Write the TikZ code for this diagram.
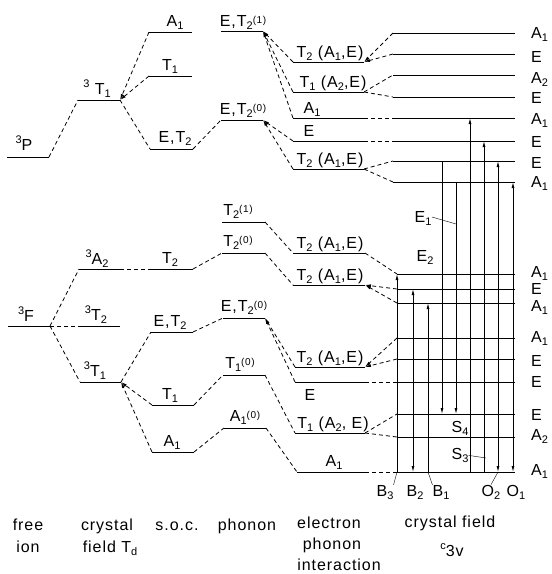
\documentclass[tikz,border=0pt]{standalone}
\usepackage{fontspec}
\setmainfont{Liberation Sans}[LetterSpace=6]
\usetikzlibrary{arrows.meta}

\newcommand{\subt}[1]{\raisebox{-0.45ex}{\fontsize{11}{11}\selectfont #1}}
\newcommand{\supt}[1]{\raisebox{0.8ex}{\fontsize{11}{11}\selectfont #1}}
\newcommand{\phn}[1]{\raisebox{0.25ex}{\fontsize{10}{10}\selectfont(#1)}}

\begin{document}
\begin{tikzpicture}[x=1pt, y=-1pt, font=\fontsize{16}{18}\selectfont,
  lvl/.style={line width=1pt},
  cnx/.style={line width=0.8pt, dash pattern=on 4pt off 3pt},
  tr/.style={line width=0.8pt},
  lab/.style={anchor=base, inner sep=0pt},
  rlab/.style={anchor=base west, inner sep=0pt},
  >={Latex[length=6pt,width=3pt]}]
  \useasboundingbox (0,0) rectangle (552,574);

  % Free ion
  \draw[lvl] (7,157) coordinate (P-l) -- (49,157) coordinate (P-r);
  \draw[lvl] (8,326) coordinate (F-l) -- (50,326) coordinate (F-r);
  \node[lab] (P-t) at (24,150) {\supt{3}P};
  \node[lab] (F-t) at (26,321) {\supt{3}F};

  % Crystal field Td
  \draw[lvl] (78,100) coordinate (T1a-l) -- (120,100) coordinate (T1a-r);
  \draw[lvl] (79,269) coordinate (A2-l) -- (120,269) coordinate (A2-r);
  \draw[lvl] (79,326) coordinate (T2-l) -- (120,326) coordinate (T2-r);
  \draw[lvl] (80,382) coordinate (T1b-l) -- (121,382) coordinate (T1b-r);
  \node[lab] (T1a-t) at (97,94) {\supt{3} T\subt{1}};
  \node[lab] (A2-t) at (97,264) {\supt{3}A\subt{2}};
  \node[lab] (T2-t) at (96,320) {\supt{3}T\subt{2}};
  \node[lab] (T1b-t) at (95,376) {\supt{3}T\subt{1}};

  % Spin-orbit coupling
  \draw[lvl] (149,32) coordinate (sA1a-l) -- (192,32) coordinate (sA1a-r);
  \draw[lvl] (149,76) coordinate (sT1a-l) -- (192,76) coordinate (sT1a-r);
  \draw[lvl] (150,149) coordinate (sET2a-l) -- (193,149) coordinate (sET2a-r);
  \draw[lvl] (150,269) coordinate (sT2-l) -- (193,269) coordinate (sT2-r);
  \draw[lvl] (151,332) coordinate (sET2b-l) -- (193,332) coordinate (sET2b-r);
  \draw[lvl] (152,405) coordinate (sT1b-l) -- (194,405) coordinate (sT1b-r);
  \draw[lvl] (152,452) coordinate (sA1b-l) -- (194,452) coordinate (sA1b-r);
  \node[lab] (sA1a-t) at (175,26) {A\subt{1}};
  \node[lab] (sT1a-t) at (170,70) {T\subt{1}};
  \node[lab] (sET2a-t) at (175,142) {E,T\subt{2}};
  \node[lab] (sT2-t) at (170,263) {T\subt{2}};
  \node[lab] (sET2b-t) at (170,326) {E,T\subt{2}};
  \node[lab] (sT1b-t) at (170,399) {T\subt{1}};
  \node[lab] (sA1b-t) at (172,446) {A\subt{1}};

  % Phonon
  \draw[lvl] (221,31) coordinate (pET21-l) -- (263,31) coordinate (pET21-r);
  \draw[lvl] (221,120) coordinate (pET20a-l) -- (263,120) coordinate (pET20a-r);
  \draw[lvl] (222,222) coordinate (pT21-l) -- (265,222) coordinate (pT21-r);
  \draw[lvl] (222,253) coordinate (pT20-l) -- (265,253) coordinate (pT20-r);
  \draw[lvl] (223,318) coordinate (pET20b-l) -- (265,318) coordinate (pET20b-r);
  \draw[lvl] (223,375) coordinate (pT10-l) -- (265,375) coordinate (pT10-r);
  \draw[lvl] (224,428) coordinate (pA10-l) -- (266,428) coordinate (pA10-r);
  \node[lab] (pET21-t) at (243,26) {E,T\subt{2}\phn{1}};
  \node[lab] (pET20a-t) at (243,114) {E,T\subt{2}\phn{0}};
  \node[lab] (pT21-t) at (238,215) {T\subt{2}\phn{1}};
  \node[lab] (pT20-t) at (238,246) {T\subt{2}\phn{0}};
  \node[lab] (pET20b-t) at (244,311) {E,T\subt{2}\phn{0}};
  \node[lab] (pT10-t) at (240,368) {T\subt{1}\phn{0}};
  \node[lab] (pA10-t) at (245,421) {A\subt{1}\phn{0}};

  % Electron phonon interaction
  \draw[lvl] (293,62) coordinate (eT2a-l) -- (364,62) coordinate (eT2a-r);
  \draw[lvl] (293,92) coordinate (eT1a-l) -- (364,92) coordinate (eT1a-r);
  \draw[lvl] (293,118) coordinate (eA1a-l) -- (364,118) coordinate (eA1a-r);
  \draw[lvl] (293,141) coordinate (eEa-l) -- (364,141) coordinate (eEa-r);
  \draw[lvl] (293,169) coordinate (eT2b-l) -- (364,169) coordinate (eT2b-r);
  \draw[lvl] (293,253) coordinate (eT2c-l) -- (365,253) coordinate (eT2c-r);
  \draw[lvl] (293,285) coordinate (eT2d-l) -- (365,285) coordinate (eT2d-r);
  \draw[lvl] (295,367) coordinate (eT2e-l) -- (365,367) coordinate (eT2e-r);
  \draw[lvl] (295,382) coordinate (eEb-l) -- (365,382) coordinate (eEb-r);
  \draw[lvl] (295,433) coordinate (eT1b-l) -- (365,433) coordinate (eT1b-r);
  \draw[lvl] (297,472) coordinate (eA1b-l) -- (365,472) coordinate (eA1b-r);
  \node[lab] (eT2a-t) at (330,57) {T\subt{2} (A\subt{1},E)};
  \node[lab] (eT1a-t) at (333,87) {T\subt{1} (A\subt{2},E)};
  \node[lab] (eA1a-t) at (312,113) {A\subt{1}};
  \node[lab] (eEa-t) at (309,136) {E};
  \node[lab] (eT2b-t) at (330,164) {T\subt{2} (A\subt{1},E)};
  \node[lab] (eT2c-t) at (330,248) {T\subt{2} (A\subt{1},E)};
  \node[lab] (eT2d-t) at (330,280) {T\subt{2} (A\subt{1},E)};
  \node[lab] (eT2e-t) at (330,362) {T\subt{2} (A\subt{1},E)};
  \node[lab] (eEb-t) at (310,400) {E};
  \node[lab] (eT1b-t) at (333,428) {T\subt{1} (A\subt{2}, E)};
  \node[lab] (eA1b-t) at (334,466) {A\subt{1}};

  % Crystal field C3v, upper group
  \foreach \n/\y/\b/\t in {1/33/38/{A\subt{1}}, 2/54/62/E, 3/75/83/{A\subt{2}},
      4/97/103/E, 5/118/124/{A\subt{1}}, 6/141/147/E, 7/161/168/E, 8/182/187/{A\subt{1}}} {
    \draw[lvl] (393,\y) coordinate (u\n-l) -- (515,\y) coordinate (u\n-r);
    \node[rlab] (u\n-t) at (531,\b) {\t};
  }
  % Crystal field C3v, lower group
  \foreach \n/\y/\b/\t in {1/274/277/{A\subt{1}}, 2/289/294/E, 3/303/311/{A\subt{1}},
      4/338/342/{A\subt{1}}, 5/359/366/E, 6/382/387/E, 7/414/420/E, 8/437/440/{A\subt{2}},
      9/472/475/{A\subt{1}}} {
    \draw[lvl] (397,\y) coordinate (l\n-l) -- (515,\y) coordinate (l\n-r);
    \node[rlab] (l\n-t) at (531,\b) {\t};
  }

  % Correlation lines
  \draw[cnx] (P-r) -- (T1a-l);
  \draw[cnx] (F-r) -- (A2-l);
  \draw[cnx] (F-r) -- (T2-l);
  \draw[cnx] (F-r) -- (T1b-l);
  \draw[cnx,->] (sA1a-l) -- (T1a-r);
  \draw[cnx,->] (sT1a-l) -- (T1a-r);
  \draw[cnx] (T1a-r) -- (sET2a-l);
  \draw[cnx] (A2-r) -- (sT2-l);
  \draw[cnx] (T1b-r) -- (sET2b-l);
  \draw[cnx,->] (sT1b-l) -- (T1b-r);
  \draw[cnx,->] (sA1b-l) -- (T1b-r);
  \draw[cnx] (sET2a-r) -- (pET20a-l);
  \draw[cnx] (sT2-r) -- (pT20-l);
  \draw[cnx] (sET2b-r) -- (pET20b-l);
  \draw[cnx] (sT1b-r) -- (pT10-l);
  \draw[cnx] (sA1b-r) -- (pA10-l);
  \draw[cnx,->] (eT2a-l) -- (pET21-r);
  \draw[cnx,->] (eT1a-l) -- (pET21-r);
  \draw[cnx,->] (eA1a-l) -- (pET21-r);
  \draw[cnx,->] (eEa-l) -- (pET20a-r);
  \draw[cnx,->] (eT2b-l) -- (pET20a-r);
  \draw[cnx] (pT21-r) -- (eT2c-l);
  \draw[cnx] (pT20-r) -- (eT2d-l);
  \draw[cnx,->] (eT2e-l) -- (pET20b-r);
  \draw[cnx,->] (eEb-l) -- (pET20b-r);
  \draw[cnx] (pT10-r) -- (eT1b-l);
  \draw[cnx] (pA10-r) -- (eA1b-l);
  \draw[cnx,->] (u1-l) -- (eT2a-r);
  \draw[cnx,->] (u2-l) -- (eT2a-r);
  \draw[cnx] (eT1a-r) -- (u3-l);
  \draw[cnx] (eT1a-r) -- (u4-l);
  \draw[cnx] (eA1a-r) -- (u5-l);
  \draw[cnx] (eEa-r) -- (u6-l);
  \draw[cnx] (eT2b-r) -- (u7-l);
  \draw[cnx] (eT2b-r) -- (u8-l);
  \draw[cnx] (eT2c-r) -- (l1-l);
  \draw[cnx,->] (l2-l) -- (eT2d-r);
  \draw[cnx,->] (l3-l) -- (eT2d-r);
  \draw[cnx,->] (l4-l) -- (eT2e-r);
  \draw[cnx,->] (l5-l) -- (eT2e-r);
  \draw[cnx] (eEb-r) -- (l6-l);
  \draw[cnx] (eT1b-r) -- (l7-l);
  \draw[cnx] (eT1b-r) -- (l8-l);
  \draw[cnx] (eA1b-r) -- (l9-l);

  % Transitions
  \foreach \n/\x in {B3/397, B2/413, B1/428, E2/442, E1/456, X1/470, X2/484, O2/498, O1/513}
    \coordinate (c\n) at (\x,0);
  \draw[tr,->] (cB3 |- l9-l) -- (cB3 |- l1-l);
  \draw[tr,<->] (cB2 |- l9-l) -- (cB2 |- l2-l);
  \draw[tr,->] (cB1 |- l9-l) -- (cB1 |- l3-l);
  \draw[tr,->] (cE2 |- u7-l) -- (cE2 |- l7-l);
  \draw[tr,->] (cE1 |- u8-l) -- (cE1 |- l7-l);
  \draw[tr,->] (cX1 |- l9-l) -- (cX1 |- u5-l);
  \draw[tr,->] (cX2 |- l9-l) -- (cX2 |- u6-l);
  \draw[tr,<->] (cO2 |- l9-l) -- (cO2 |- u7-l);
  \draw[tr,<->] (cO1 |- l9-l) -- (cO1 |- u8-l);

  % Transition labels
  \node[lab] (E1-t) at (423,222) {E\subt{1}};
  \node[lab] (E2-t) at (425,261) {E\subt{2}};
  \node[lab] (S4-t) at (460,432) {S\subt{4}};
  \node[lab] (S3-t) at (460,459) {S\subt{3}};
  \node[lab] (B3-t) at (385,496) {B\subt{3}};
  \node[lab] (B2-t) at (415,496) {B\subt{2}};
  \node[lab] (B1-t) at (441,496) {B\subt{1}};
  \node[lab] (O2-t) at (491,496) {O\subt{2}};
  \node[lab] (O1-t) at (516,496) {O\subt{1}};
  \coordinate (E1-p) at (456,224);
  \coordinate (S3-p) at (486,458);
  \draw[thin] (432,217) coordinate (E1-q) -- (E1-p);
  \draw[thin] (S3-t.east) -- (S3-p);
  \draw[thin] (B3-t.north east) -- (cB3 |- l9-l);
  \draw[thin] (B1-t.north west) -- (cB1 |- l9-l);
  \draw[thin] (O2-t.north) -- (cO2 |- l9-l);

  % Column captions
  \node[lab] (c1a) at (28,530) {free};
  \node[lab] (c1b) at (28,552) {ion};
  \node[lab] (c2a) at (107,530) {crystal};
  \node[lab] (c2b) at (110,552) {field T\subt{d}};
  \node[lab] (c3a) at (177,530) {s.o.c.};
  \node[lab] (c4a) at (247,530) {phonon};
  \node[lab] (c5a) at (329,528) {electron};
  \node[lab] (c5b) at (332,549) {phonon};
  \node[lab] (c5c) at (339,570) {interaction};
  \node[lab] (c6a) at (450,527) {crystal field};
  \node[lab] (c6b) at (452,556) {\supt{c}3v};
\end{tikzpicture}
\end{document}
